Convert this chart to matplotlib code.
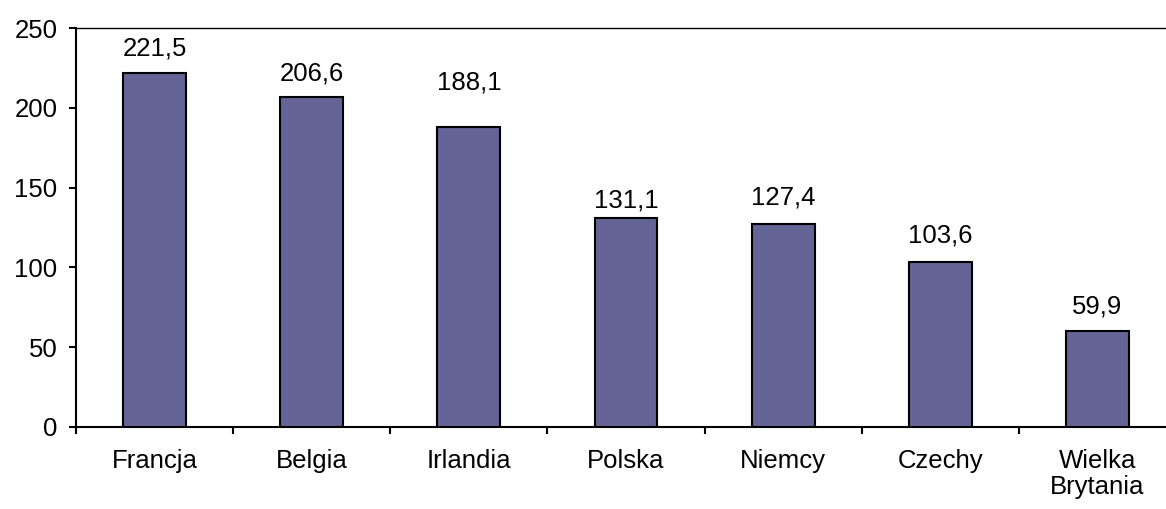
import matplotlib
matplotlib.use("Agg")
import matplotlib.pyplot as plt
import numpy as np

categories = ["Francja", "Belgia", "Irlandia", "Polska", "Niemcy", "Czechy", "Wielka\nBrytania"]
values = [221.5, 206.6, 188.1, 131.1, 127.4, 103.6, 59.9]
value_labels = ["221,5", "206,6", "188,1", "131,1", "127,4", "103,6", "59,9"]
yticks = [0, 50, 100, 150, 200, 250]
# label gap above bar (pixels), as placed in the original
label_gaps_px = [18, 17, 37, 10, 19, 19, 18]

plt.rcParams['font.family'] = ['Liberation Sans', 'DejaVu Sans']

FS = 18.5
dpi = 100
fig = plt.figure(figsize=(11.66, 5.09), dpi=dpi)
W, H = 1166, 509
left_px, right_px, top_px, bottom_px = 76, 1176, 28, 427
ax = fig.add_axes([left_px / W, (H - bottom_px) / H, (right_px - left_px) / W, (bottom_px - top_px) / H])

x = np.arange(len(categories))
ax.bar(x, values, width=0.4, color="#646496", edgecolor="black", linewidth=1.5, zorder=3)

for xi, v, lab, g in zip(x, values, value_labels, label_gaps_px):
    ax.annotate(lab, xy=(xi, v), xytext=(0, g * 72 / dpi), textcoords="offset points",
                ha="center", va="baseline", fontsize=FS, color="black")

ax.set_xlim(-0.5, len(categories) - 0.5)
ax.set_ylim(0, 250)
ax.set_yticks(yticks)
ax.set_yticklabels([str(t) for t in yticks], fontsize=FS)
ax.set_xticks(x)
ax.set_xticklabels(categories, fontsize=FS, linespacing=1.1)
ax.set_xticks(np.arange(-0.5, len(categories), 1.0), minor=True)
ax.tick_params(axis="x", which="major", length=0, pad=16)
ax.tick_params(axis="x", which="minor", length=5, width=1.5, direction="out")
ax.tick_params(axis="y", which="major", length=5, width=1.5, direction="out", pad=8.5)

ax.spines["left"].set_linewidth(1.5)
ax.spines["bottom"].set_linewidth(1.5)
ax.spines["top"].set_linewidth(1.0)
ax.spines["right"].set_linewidth(1.0)

fig.savefig("out.png", dpi=dpi)
